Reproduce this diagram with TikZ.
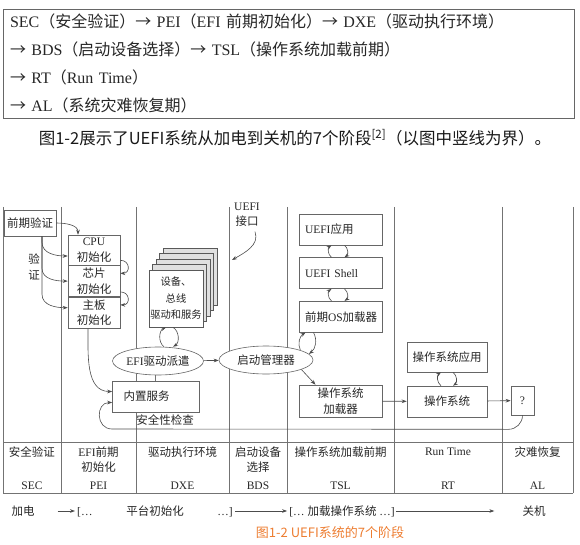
\documentclass[tikz,border=0pt]{standalone}
\usepackage{fontspec}
\usepackage{xcolor}
\usepackage{tikz}
\usetikzlibrary{shapes.geometric,arrows.meta,positioning}
\setmainfont{Liberation Serif}
\newfontfamily\zhfont{Noto Sans CJK SC}
\XeTeXinterchartokenstate=1
\newXeTeXintercharclass\zhclass
\newcount\zhchar
\zhchar="4E00
\loop
  \XeTeXcharclass\zhchar=\zhclass
  \advance\zhchar by 1
\ifnum\zhchar<"A000 \repeat
\zhchar="3000
\loop
  \XeTeXcharclass\zhchar=\zhclass
  \advance\zhchar by 1
\ifnum\zhchar<"3040 \repeat
\zhchar="FF00
\loop
  \XeTeXcharclass\zhchar=\zhclass
  \advance\zhchar by 1
\ifnum\zhchar<"FFF0 \repeat
\XeTeXcharclass"2192=\zhclass
\XeTeXinterchartoks 0 \zhclass = {\zhfont}
\XeTeXinterchartoks 4095 \zhclass = {\zhfont}
\XeTeXinterchartoks \zhclass 0 = {\rmfamily}
\XeTeXinterchartoks \zhclass 4095 = {\rmfamily}
\definecolor{capcol}{RGB}{237,125,49}
\newcommand\introfont{\fontsize{16pt}{28pt}\selectfont}
\newcommand\dgfont{\fontsize{11.5pt}{15.5pt}\selectfont}
\newcommand\pagefont{\fontsize{10.3pt}{16.5pt}\selectfont}
\newcommand\leadfont{\XeTeXinterchartokenstate=0 \zhfont\fontsize{16.5pt}{20pt}\selectfont}
\newcommand\capfont{\XeTeXinterchartokenstate=0 \zhfont\fontsize{13pt}{15pt}\selectfont}

\begin{document}
\begin{tikzpicture}[x=1pt,y=1pt,
  node distance=12pt,
  line/.style={draw=black!55,line width=0.6pt},
  box/.style={draw=black!60,fill=white,line width=0.6pt,align=center,
              font=\dgfont,text=black!85,inner sep=1.5pt},
  tslbox/.style={box,align=left,text width=71pt,inner xsep=6pt,minimum height=31pt},
  oval/.style={ellipse,draw=black!60,fill=white,line width=0.6pt,
               font=\dgfont,text=black!85,inner sep=0pt,minimum height=28pt},
  page/.style={draw=black!65,fill=black!12,line width=0.6pt,
               minimum width=54pt,minimum height=57pt},
  lbl/.style={font=\dgfont,text=black!85,inner sep=0pt,align=center},
  phase/.style={lbl,anchor=north},
  abbr/.style={lbl,anchor=base},
  flow/.style={lbl,text height=9pt,text depth=1pt},
  arr/.style={-{Stealth[length=5pt,width=3.6pt]},draw=black!70,line width=0.6pt}]
  \useasboundingbox (0,0) rectangle (580,-545);

  \node[draw=black!60,line width=0.7pt,text width=557pt,inner xsep=7pt,
        minimum height=109pt,align=left,font=\introfont,text=black!85]
        (intro) at (288.5,-63.5)
        {SEC（安全验证）→ PEI（EFI 前期初始化）→ DXE（驱动执行环境）\\
         → BDS（启动设备选择）→ TSL（操作系统加载前期）\\
         → RT（Run Time）\\
         → AL（系统灾难恢复期）};
  \node[font=\leadfont,text=black!90] (lead) at (295,-138)
        {图1-2展示了UEFI系统从加电到关机的7个阶段\textsuperscript{[2]}（以图中竖线为界）。};

  \draw[line] (3,-207) -- (3,-493) (61,-207) -- (61,-493) (136,-207) -- (136,-493)
              (229,-207) -- (229,-493) (287,-207) -- (287,-493) (394,-207) -- (394,-493)
              (502,-207) -- (502,-493) (573,-207) -- (573,-493);
  \draw[line] (3,-442) -- (573,-442) (3,-493) -- (573,-493);

  \node[box,minimum width=52pt,minimum height=26pt] (pre) at (30,-223) {前期验证};
  \node[box,minimum width=52pt,minimum height=30pt] (cpu) at (94,-250) {CPU\\初始化};
  \node[box,minimum width=52pt,minimum height=31pt,below=0pt of cpu] (chip) {芯片\\初始化};
  \node[box,minimum width=52pt,minimum height=31pt,below=0pt of chip] (board) {主板\\初始化};
  \node[lbl] (verify) at (34,-267) {验\\证};

  \node[page] (pg4) at (190,-276.5) {};
  \node[page] (pg3) at (186.5,-282) {};
  \node[page] (pg2) at (183,-287.5) {};
  \node[page] (pg1) at (179.5,-293) {};
  \node[page,fill=white,font=\pagefont,text=black!85,align=center,inner sep=0pt]
        (dev) at (176,-298.5) {设备、\\总线\\驱动和服务};

  \node[oval,minimum width=91pt] (efi) at (158,-361) {EFI驱动派遣};
  \node[oval,minimum width=94pt] (boot) at (266,-360) {启动管理器};
  \node[box,align=left,text width=65pt,inner xsep=11pt,minimum height=31pt]
        (builtin) at (156,-396.5) {内置服务};
  \node[lbl] (check) at (165,-420) {安全性检查};
  \node[lbl] (iface) at (247,-214.5) {UEFI\\接口};

  \node[tslbox] (app) at (340.5,-229.5) {UEFI应用};
  \node[tslbox,below=of app] (shell) {UEFI Shell};
  \node[tslbox,below=of shell] (pos) {前期OS加载器};
  \node[box,minimum width=83pt,minimum height=32pt] (osl) at (340.5,-401) {操作系统\\加载器};
  \node[box,minimum width=80pt,minimum height=30pt] (osapp) at (447,-357) {操作系统应用};
  \node[box,minimum width=80pt,minimum height=31pt] (os) at (447,-401.5) {操作系统};
  \node[box,minimum width=23pt,minimum height=29pt] (q) at (522.5,-400.5) {?};
  \coordinate (ifacetip) at (232,-260);
  \coordinate (backL) at (112,-429);

  \node[phase] (secname) at (32,-446.5) {安全验证};
  \node[phase] (peiname) at (98.5,-446.5) {EFI前期\\初始化};
  \node[phase] (dxename) at (182.5,-446.5) {驱动执行环境};
  \node[phase] (bdsname) at (258,-446.5) {启动设备\\选择};
  \node[phase] (tslname) at (340.5,-446.5) {操作系统加载前期};
  \node[phase] (rtname) at (448,-448) {Run Time};
  \node[phase] (alname) at (537.5,-446.5) {灾难恢复};
  \node[abbr] (sec) at (32,-489) {SEC};
  \node[abbr] (pei) at (98.5,-489) {PEI};
  \node[abbr] (dxe) at (182.5,-489) {DXE};
  \node[abbr] (bds) at (258,-489) {BDS};
  \node[abbr] (tsl) at (340.5,-489) {TSL};
  \node[abbr] (rt) at (448,-489) {RT};
  \node[abbr] (al) at (537.5,-489) {AL};

  \node[flow] (on) at (23,-511) {加电};
  \node[flow,anchor=west] (brA) at (77,-511) {[…};
  \node[flow] (plat) at (155,-511) {平台初始化};
  \node[flow,anchor=east] (brB) at (233,-511) {…]};
  \node[flow] (load) at (342,-511) {[… 加载操作系统 …]};
  \node[flow] (off) at (534,-511) {关机};
  \node[font=\capfont,text=capcol] (cap) at (330,-533) {图1-2 UEFI系统的7个阶段};

  \draw[arr] (pre.east) to[out=0,in=90] ([xshift=-16pt]cpu.north);
  \draw[arr] ([xshift=12pt]pre.south) -- ++(0,-6) to[out=-90,in=180] ([yshift=-6pt]cpu.west);
  \draw[arr] ([xshift=12pt]pre.south) -- ++(0,-32) to[out=-90,in=180] (chip.west);
  \draw[arr] ([xshift=12pt]pre.south) -- ++(0,-58) to[out=-90,in=180] ([yshift=5pt]board.west);
  \draw[arr] ([yshift=5pt]cpu.south east) to[out=0,in=0,looseness=2] ([yshift=-8pt]chip.north east);
  \draw[arr] ([yshift=5pt]chip.south east) to[out=0,in=0,looseness=2] ([yshift=-8pt]board.north east);
  \draw[arr] ([xshift=-6pt]board.south) to[out=-90,in=180] ([yshift=5pt]builtin.west);
  \draw[arr] ([xshift=6pt]efi.north) to[bend left=60] ([xshift=-10pt]dev.south);
  \draw[arr] ([xshift=-3pt]dev.south) to[bend left=60] ([xshift=15pt]efi.north);
  \draw[line] ([xshift=-3pt]efi.south) -- ([xshift=-3pt]efi.south |- builtin.north);
  \draw[arr] (efi) -- (boot);
  \draw[arr] ([xshift=8pt,yshift=-5pt]iface.south) to[out=-70,in=30] (ifacetip);
  \draw[arr] ([xshift=-9pt]shell.north) to[bend left=55] ([xshift=-9pt]app.south);
  \draw[arr] ([xshift=4pt]app.south) to[bend left=55] ([xshift=4pt]shell.north);
  \draw[arr] ([xshift=-9pt]pos.north) to[bend left=55] ([xshift=-9pt]shell.south);
  \draw[arr] ([xshift=4pt]shell.south) to[bend left=55] ([xshift=4pt]pos.north);
  \draw[arr] (boot.16) to[bend left=40] ([xshift=-35pt]pos.south);
  \draw[arr] ([xshift=-27pt]pos.south) to[bend left=40] (boot.8);
  \draw[arr] (boot.-15) -- ([xshift=-25pt]osl.north);
  \draw[arr] ([xshift=-6pt]os.north) to[bend left=55] ([xshift=-6pt]osapp.south);
  \draw[arr] ([xshift=6pt]osapp.south) to[bend left=55] ([xshift=6pt]os.north);
  \draw[arr] (osl) -- (os);
  \draw[arr] (os) -- (q);
  \draw[arr] (q.south) to[out=-90,in=0] ++(-14,-14) -- (backL)
             to[out=180,in=180,looseness=1.6] ([yshift=-6pt]builtin.west);

  \draw[arr] ([xshift=23pt]on.east) -- ([xshift=-2pt]brA.west);
  \draw[arr] ([xshift=2pt]brB.east) -- ([xshift=-2pt]load.west);
  \draw[arr] ([xshift=1pt]load.east) -- ([xshift=-28pt]off.west);
\end{tikzpicture}
\end{document}
